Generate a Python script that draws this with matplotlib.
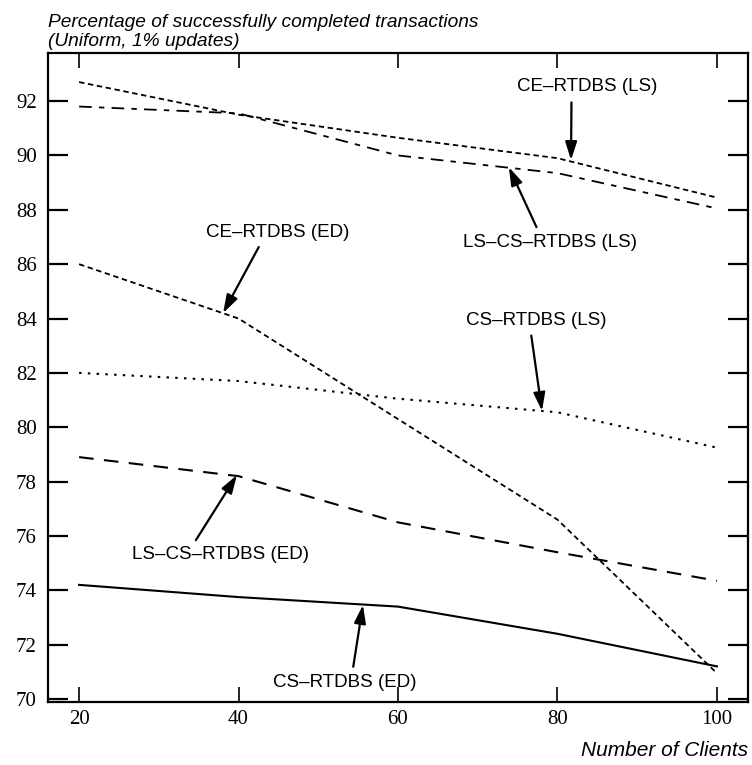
import numpy as np
import matplotlib
matplotlib.use('Agg')
import matplotlib.pyplot as plt

# number of clients
clients = [20, 40, 60, 80, 100]

# percentage of successfully completed transactions
ce_ls = [92.7, 91.5, 90.65, 89.9, 88.45]
lscs_ls = [91.8, 91.55, 90.0, 89.35, 88.05]
ce_ed = [86.0, 84.0, 80.3, 76.6, 70.95]
cs_ls = [82.0, 81.7, 81.05, 80.55, 79.25]
lscs_ed = [78.9, 78.2, 76.5, 75.4, 74.35]
cs_ed = [74.2, 73.75, 73.4, 72.4, 71.2]

yticks = list(range(70, 93, 2))
xticks = [20, 40, 60, 80, 100]

plt.rcParams['font.family'] = ['Liberation Sans', 'DejaVu Sans']

fig = plt.figure(figsize=(7.52, 7.65), dpi=100)
ax = fig.add_axes([48/752, 1 - 702/765, 700/752, 649/765])

ax.plot(clients, ce_ls, color='black', lw=1.3, ls=(0, (3, 2)))
ax.plot(clients, lscs_ls, color='black', lw=1.3, ls=(0, (7, 4, 3, 4)))
ax.plot(clients, ce_ed, color='black', lw=1.3, ls=(0, (3, 2)))
ax.plot(clients, cs_ls, color='black', lw=1.5, ls=(0, (1.2, 3)))
ax.plot(clients, lscs_ed, color='black', lw=1.5, ls=(0, (7, 5)))
ax.plot(clients, cs_ed, color='black', lw=1.5, ls='-')

ax.set_xlim(16.1, 103.9)
ax.set_ylim(69.89, 93.77)
ax.set_xticks(xticks)
ax.set_yticks(yticks)

for s in ax.spines.values():
    s.set_linewidth(1.6)

ax.tick_params(axis='y', which='major', direction='in', length=14.5, width=1.6,
               left=True, right=True, pad=8, labelsize=15)
ax.tick_params(axis='x', which='major', direction='in', length=11, width=1.2,
               top=True, bottom=True, pad=6, labelsize=15)
for lab in ax.get_xticklabels() + ax.get_yticklabels():
    lab.set_family('Liberation Serif')

fs = 13.5

def label(text, tip, pos, rel):
    ax.annotate(text, xy=tip, xytext=pos, ha='center', va='center', fontsize=fs,
                arrowprops=dict(arrowstyle='-|>,head_length=0.5,head_width=0.16',
                                color='black', lw=1.6, mutation_scale=22,
                                shrinkA=3, shrinkB=0, relpos=rel))

label('CE\u2013RTDBS (LS)', (81.7, 89.83), (83.7, 92.52), (0.39, 0))
label('LS\u2013CS\u2013RTDBS (LS)', (73.9, 89.57), (79.06, 86.81), (0.44, 1))
label('CE\u2013RTDBS (ED)', (38.06, 84.2), (44.95, 87.18), (0.39, 0))
label('CS\u2013RTDBS (LS)', (78.06, 80.6), (77.3, 83.94), (0.46, 0))
label('LS\u2013CS\u2013RTDBS (ED)', (39.8, 78.24), (37.7, 75.3), (0.34, 1))
label('CS\u2013RTDBS (ED)', (55.6, 73.46), (53.35, 70.62), (0.55, 1))

fig.text(48/752, 1 - 27/765, 'Percentage of successfully completed transactions',
         ha='left', va='baseline', fontsize=13.8, style='italic')
fig.text(48/752, 1 - 46/765, '(Uniform, 1% updates)',
         ha='left', va='baseline', fontsize=13.8, style='italic')
fig.text(748/752, 1 - 756/765, 'Number of Clients', ha='right', va='baseline',
         fontsize=15, style='italic')

fig.savefig('out.png', dpi=100)
